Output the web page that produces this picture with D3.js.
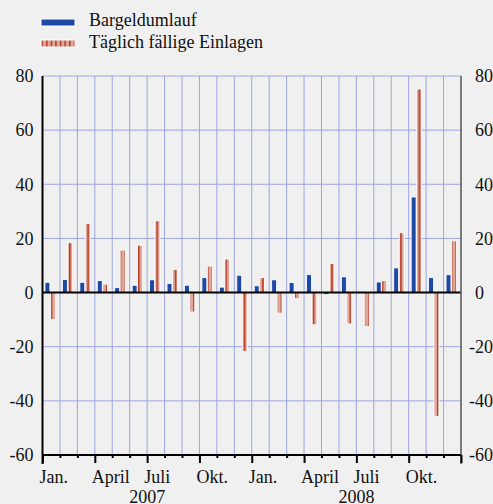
<!DOCTYPE html>
<html>
<head>
<meta charset="utf-8">
<script src="https://cdn.jsdelivr.net/npm/d3@7"></script>
<style>
  body { margin: 0; background: #f0f0f0; }
  svg { display: block; }
  text { font-family: 'Liberation Serif', 'Times New Roman', serif; fill: #111; }
</style>
</head>
<body>
<script>
// Monthly changes, Jan 2007 - Dec 2008
const months = ['2007-01', '2007-02', '2007-03', '2007-04', '2007-05', '2007-06',
  '2007-07', '2007-08', '2007-09', '2007-10', '2007-11', '2007-12',
  '2008-01', '2008-02', '2008-03', '2008-04', '2008-05', '2008-06',
  '2008-07', '2008-08', '2008-09', '2008-10', '2008-11', '2008-12']
const bargeld = [3.8, 4.8, 3.8, 4.4, 1.8, 2.7, 4.7, 3.3, 2.7, 5.5, 2.0, 6.4,
  2.5, 4.7, 3.7, 6.6, -0.7, 5.8, 0.1, 3.9, 9.1, 35.3, 5.5, 6.6]
const einlagen = [-10, 18.4, 25.6, 3.1, 15.7, 17.5, 26.5, 8.6, -7.2, 9.8, 12.4, -21.7,
  5.5, -7.6, -2.3, -11.9, 10.8, -11.6, -12.6, 4.5, 22.1, 75.2, -45.7, 19.1]
const seriesNames = ['Bargeldumlauf', 'Täglich fällige Einlagen']
const yTicks = [-60, -40, -20, 0, 20, 40, 60, 80]
const quarterLabels = [
  { idx: 0, label: 'Jan.' }, { idx: 3, label: 'April' }, { idx: 6, label: 'Juli' }, { idx: 9, label: 'Okt.' },
  { idx: 12, label: 'Jan.' }, { idx: 15, label: 'April' }, { idx: 18, label: 'Juli' }, { idx: 21, label: 'Okt.' }
]
const years = [{ from: 0, to: 12, label: '2007' }, { from: 12, to: 24, label: '2008' }]

const width = 493
const height = 504
const plotLeft = 42.5
const plotRight = 461
const plotTop = 76
const plotBottom = 455
const blue = '#1d49a5'
const gridColor = '#9ca6df'
const serif = "'Liberation Serif', 'Times New Roman', serif"

const svg = d3.select('body').append('svg')
  .attr('width', width)
  .attr('height', height)

// Pattern for the striped series
const defs = svg.append('defs')
const pat = defs.append('pattern')
  .attr('id', 'stripes')
  .attr('patternUnits', 'userSpaceOnUse')
  .attr('width', 4.6)
  .attr('height', 10)
pat.append('rect').attr('width', 4.6).attr('height', 10).attr('fill', '#dea899')
pat.append('rect').attr('x', 0).attr('width', 1.5).attr('height', 10).attr('fill', '#b73a26')

// Scales
const x = d3.scaleBand().domain(months).range([plotLeft, plotRight])
const xIdx = d3.scaleLinear().domain([0, 24]).range([plotLeft, plotRight])
const x1 = d3.scaleBand().domain(['b', 'e']).range([2.5, 12.8]).paddingInner(0.1)
const y = d3.scaleLinear().domain([-60, 80]).range([plotBottom, plotTop])

// Grid
svg.append('g')
  .selectAll('line')
  .data(d3.range(1, 24))
  .enter()
  .append('line')
  .attr('x1', d => xIdx(d))
  .attr('x2', d => xIdx(d))
  .attr('y1', plotTop)
  .attr('y2', plotBottom)
  .attr('stroke', gridColor)
  .attr('stroke-width', 1)

svg.append('g')
  .selectAll('line')
  .data(yTicks.filter(d => d !== 0 && d !== -60))
  .enter()
  .append('line')
  .attr('x1', plotLeft)
  .attr('x2', plotRight)
  .attr('y1', d => y(d))
  .attr('y2', d => y(d))
  .attr('stroke', gridColor)
  .attr('stroke-width', 1)

// Bars
const bars = svg.append('g')
bars.selectAll('.cash')
  .data(bargeld)
  .enter()
  .append('rect')
  .attr('class', 'cash')
  .attr('x', (d, i) => x(months[i]) + x1('b'))
  .attr('y', d => y(Math.max(0, d)))
  .attr('width', x1.bandwidth())
  .attr('height', d => Math.abs(y(d) - y(0)))
  .attr('fill', blue)
  .attr('stroke', '#fff')
  .attr('stroke-width', 0.8)

bars.selectAll('.dep')
  .data(einlagen)
  .enter()
  .append('rect')
  .attr('class', 'dep')
  .attr('x', (d, i) => x(months[i]) + x1('e'))
  .attr('y', d => y(Math.max(0, d)))
  .attr('width', x1.bandwidth())
  .attr('height', d => Math.abs(y(d) - y(0)))
  .attr('fill', 'url(#stripes)')
  .attr('stroke', '#fff')
  .attr('stroke-width', 0.8)

// Zero line
svg.append('line')
  .attr('x1', plotLeft)
  .attr('x2', plotRight)
  .attr('y1', y(0))
  .attr('y2', y(0))
  .attr('stroke', '#000')
  .attr('stroke-width', 2)

// Left / right axes
const yAxisL = d3.axisLeft(y).tickValues(yTicks).tickFormat(d => String(d)).tickSize(0).tickPadding(9)
svg.append('g')
  .attr('transform', `translate(${plotLeft}, 0)`)
  .call(yAxisL)
  .attr('font-family', null)
  .call(g => g.select('.domain').remove())
  .selectAll('text')
  .attr('font-size', 18)
  .style('font-family', serif)

// right labels: digits line up, minus sign hangs to the left
const yAxisR = d3.axisRight(y).tickValues(yTicks).tickFormat(d => String(d)).tickSize(0).tickPadding(14)
svg.append('g')
  .attr('transform', `translate(${plotRight}, 0)`)
  .call(yAxisR)
  .attr('font-family', null)
  .call(g => g.select('.domain').remove())
  .selectAll('text')
  .attr('font-size', 18)
  .attr('dx', d => d < 0 ? -6 : 0)
  .style('font-family', serif)

svg.append('line')
  .attr('x1', plotLeft).attr('x2', plotLeft)
  .attr('y1', plotTop).attr('y2', plotBottom + 9)
  .attr('stroke', '#000').attr('stroke-width', 2)
svg.append('line')
  .attr('x1', plotRight).attr('x2', plotRight)
  .attr('y1', plotTop).attr('y2', plotBottom + 9)
  .attr('stroke', '#555').attr('stroke-width', 1.5)

// Bottom axis with month ticks
const xAxis = d3.axisBottom(xIdx).tickValues(d3.range(25)).tickFormat('').tickSizeOuter(0)
svg.append('g')
  .attr('transform', `translate(0, ${plotBottom})`)
  .call(xAxis)
  .call(g => g.select('.domain').attr('stroke', '#000').attr('stroke-width', 2).attr('d', `M${plotLeft},0H${plotRight}`))
  .call(g => g.selectAll('.tick line')
    .attr('stroke', '#000')
    .attr('stroke-width', 2)
    .attr('y2', d => d % 3 === 0 ? 8 : 3))

svg.append('g')
  .selectAll('text')
  .data(quarterLabels)
  .enter()
  .append('text')
  .attr('x', d => xIdx(d.idx) - 3)
  .attr('y', 483)
  .attr('font-size', 18)
  .text(d => d.label)

svg.append('g')
  .selectAll('text')
  .data(years)
  .enter()
  .append('text')
  .attr('x', d => (xIdx(d.from) + xIdx(d.to)) / 2)
  .attr('y', 503)
  .attr('text-anchor', 'middle')
  .attr('font-size', 18)
  .text(d => d.label)

// Legend
const legend = svg.append('g')
legend.selectAll('rect')
  .data(seriesNames)
  .enter()
  .append('rect')
  .attr('x', 41)
  .attr('y', (d, i) => 19 + i * 21)
  .attr('width', 34)
  .attr('height', 7)
  .attr('fill', (d, i) => i === 0 ? blue : 'url(#stripes)')
  .attr('stroke', '#fff')
  .attr('stroke-width', 1)
legend.selectAll('text')
  .data(seriesNames)
  .enter()
  .append('text')
  .attr('x', 89)
  .attr('y', (d, i) => 26 + i * 22)
  .attr('font-size', 18)
  .text(d => d)
</script>
</body>
</html>
